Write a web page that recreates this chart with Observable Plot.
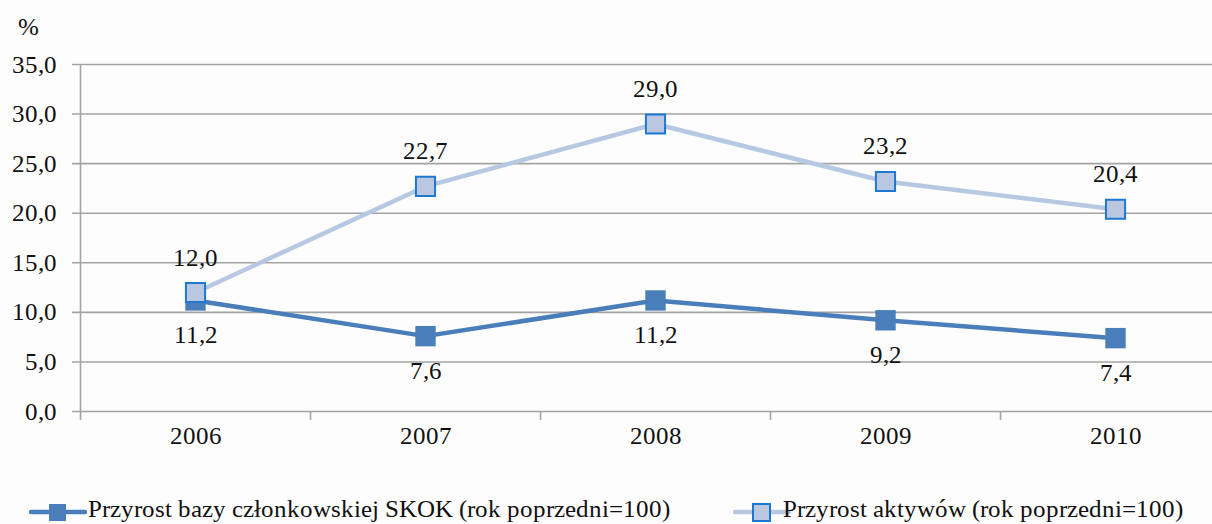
<!DOCTYPE html>
<html>
<head>
<meta charset="utf-8">
<script src="https://cdn.jsdelivr.net/npm/d3@7"></script>
<script src="https://cdn.jsdelivr.net/npm/@observablehq/plot@0.6"></script>
<style>
  @font-face { font-family: "ChartSerif"; src: local("Liberation Serif"), local("LiberationSerif"), local("LiberationSerif-Regular"); }
  .serif { font-family: ChartSerif, "Liberation Serif", serif; }
</style>
</head>
<body style="margin:0;background:#fdfdfd;font-family:'Liberation Serif', serif;">
<div id="chart" class="serif" style="position:relative;width:1212px;height:524px;overflow:hidden;">
  <div class="serif" style="position:absolute;left:18px;top:13px;font-size:25px;color:#111;">%</div>
</div>
<script>
// Years on the category axis
const years = [2006, 2007, 2008, 2009, 2010];
// Membership growth of SKOK credit unions, % (previous year = 100)
const members = [11.2, 7.6, 11.2, 9.2, 7.4];
// Asset growth, % (previous year = 100)
const assets = [12.0, 22.7, 29.0, 23.2, 20.4];
// Value-axis ticks
const yTicks = [0, 5, 10, 15, 20, 25, 30, 35];
const seriesNames = [
  "Przyrost bazy członkowskiej SKOK (rok poprzedni=100)",
  "Przyrost aktywów (rok poprzedni=100)"
];

const dark = "#4a7ebb";
const lightLine = "#b7c8e2";
const lightFill = "#b9c7e1";
const lightEdge = "#1f78cf";
const gridColor = "#a3a3a3";
const fontStack = "ChartSerif, 'Liberation Serif', serif";
const fs = 25;

const fmt = d => d.toFixed(1).replace(".", ",");
const membersData = years.map((y, i) => ({year: y, value: members[i]}));
const assetsData = years.map((y, i) => ({year: y, value: assets[i]}));
// Category boundaries for the tick marks between years
const bounds = years.map(y => y - 0.5).concat([years[years.length - 1] + 0.5]);

const chart = Plot.plot({
  width: 1212,
  height: 466,
  marginLeft: 72,
  marginRight: 0,
  marginTop: 64,
  marginBottom: 55,
  style: {background: "transparent", fontFamily: fontStack, fontSize: fs + "px", color: "#111"},
  x: {type: "linear", domain: [bounds[0], bounds[bounds.length - 1]], range: [80, 1230], label: null},
  y: {domain: [0, 35], label: null},
  marks: [
    Plot.ruleY(yTicks, {stroke: gridColor, strokeWidth: 1.6}),
    Plot.ruleX([bounds[0]], {y1: 0, y2: 35, stroke: gridColor, strokeWidth: 1.6}),
    Plot.axisX({ticks: bounds, tickSize: 9, tickFormat: () => "", stroke: gridColor, strokeWidth: 1.6, label: null}),
    Plot.axisX({ticks: years, tickSize: 0, tickPadding: 15, tickFormat: d => String(d), fontSize: fs, label: null}),
    Plot.axisY({ticks: yTicks, tickSize: 0, tickPadding: 16, tickFormat: fmt, fontSize: fs, label: null}),
    Plot.line(membersData, {x: "year", y: "value", stroke: dark, strokeWidth: 4.5}),
    Plot.dot(membersData, {x: "year", y: "value", symbol: "square", r: 11.5, fill: dark, stroke: "none"}),
    Plot.line(assetsData, {x: "year", y: "value", stroke: lightLine, strokeWidth: 4.5}),
    Plot.dot(assetsData, {x: "year", y: "value", symbol: "square", r: 10.8, fill: lightFill, stroke: lightEdge, strokeWidth: 2}),
    Plot.text(membersData, {x: "year", y: "value", text: d => fmt(d.value), dy: 35, fontSize: fs, fill: "#111"}),
    Plot.text(assetsData, {x: "year", y: "value", text: d => fmt(d.value), dy: -35, fontSize: fs, fill: "#111"})
  ]
});
chart.querySelectorAll("text").forEach(t => t.setAttribute("class", "serif"));
document.getElementById("chart").appendChild(chart);

// Legend below the plot
const legend = document.createElement("div");
legend.style.cssText = "position:absolute;top:494px;left:0;width:1212px;height:30px;white-space:nowrap;color:#111;";
const items = [
  {left: 29, textLeft: 88, textWidth: 619, line: dark, fill: dark, edge: "none"},
  {left: 733, textLeft: 783, textWidth: 424, line: lightLine, fill: lightFill, edge: lightEdge}
];
seriesNames.forEach((name, i) => {
  const s = items[i];
  const sw = d3.create("svg").attr("width", 58).attr("height", 30)
    .style("position", "absolute").style("left", s.left + "px").style("top", "2px");
  sw.append("line").attr("x1", 2).attr("x2", 56).attr("y1", 16).attr("y2", 16)
    .attr("stroke", s.line).attr("stroke-width", 4.5).attr("stroke-linecap", "round");
  sw.append("rect").attr("x", 20).attr("y", 8).attr("width", 17).attr("height", 17)
    .attr("fill", s.fill).attr("stroke", s.edge).attr("stroke-width", 2);
  legend.appendChild(sw.node());
  const label = document.createElement("span");
  label.className = "serif";
  label.textContent = name;
  label.style.position = "absolute";
  label.style.left = s.textLeft + "px";
  label.style.top = "0px";
  label.style.fontSize = "25px";
  label.style.lineHeight = "30px";
  legend.appendChild(label);
  // widen the label so it spans its legend slot
  const w = label.getBoundingClientRect().width;
  if (w > 0 && w < s.textWidth) label.style.letterSpacing = ((s.textWidth - w) / name.length) + "px";
});
document.getElementById("chart").appendChild(legend);
</script>
</body>
</html>
